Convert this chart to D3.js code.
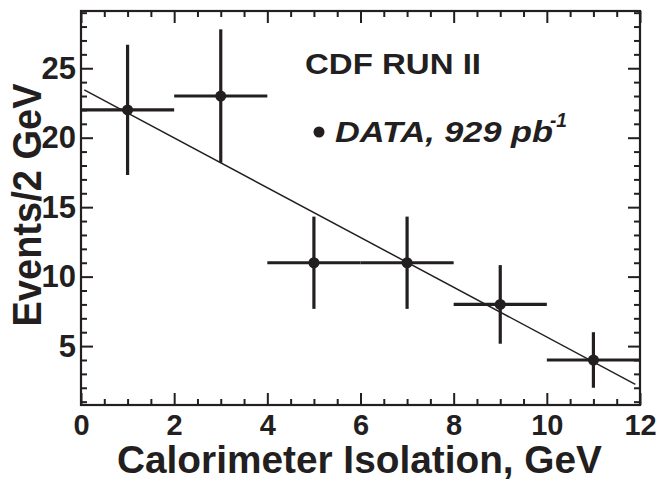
<!DOCTYPE html>
<html>
<head>
<meta charset="utf-8">
<script src="https://cdn.jsdelivr.net/npm/d3@7"></script>
<style>
  body { margin: 0; background: #fff; }
  text { font-family: "Liberation Sans", Arial, Helvetica, sans-serif; font-weight: bold; fill: #231f20; }
</style>
</head>
<body>
<script>
(function () {
  // bin centres, counts and half widths
  const binCenters = [1, 3, 5, 7, 9, 11]
  const counts = [22, 23, 11, 11, 8, 4]
  const countErrors = [4.69, 4.8, 3.32, 3.32, 2.83, 2.0]
  const binHalfWidth = [1, 1, 1, 1, 1, 1]

  // straight fit line, end points
  const fitX = [0.07, 11.9]
  const fitY = [23.44, 2.25]

  const xMajor = [0, 2, 4, 6, 8, 10, 12]
  const xLabels = ['0', '2', '4', '6', '8', '10', '12']
  const yMajor = [5, 10, 15, 20, 25]
  const yLabels = ['5', '10', '15', '20', '25']

  const W = 656, H = 479
  const ink = '#231f20'

  const x = d3.scaleLinear().domain([0, 12]).range([81, 640])
  const y = d3.scaleLinear().domain([0.76, 29.12]).range([405, 11])

  const xMinor = d3.range(0.5, 12, 0.5).filter(v => v % 2 !== 0)
  const yMinor = d3.range(1, 30, 1).filter(v => v % 5 !== 0 && v < 29.12)

  const svg = d3.select('body').append('svg')
                .attr('width', W)
                .attr('height', H)

  // axes (ticks point inwards, on all four sides)
  const bottom = svg.append('g').attr('transform', `translate(0,${y.range()[0]})`)
  bottom.call(d3.axisBottom(x).tickValues(xMajor).tickSize(-12).tickPadding(9)
                .tickFormat((d, i) => xLabels[i]))
  bottom.append('g').call(d3.axisBottom(x).tickValues(xMinor).tickSize(-6).tickFormat(''))

  const top = svg.append('g').attr('transform', `translate(0,${y.range()[1]})`)
  top.call(d3.axisTop(x).tickValues(xMajor).tickSize(-12).tickFormat(''))
  top.append('g').call(d3.axisTop(x).tickValues(xMinor).tickSize(-6).tickFormat(''))

  const left = svg.append('g').attr('transform', `translate(${x.range()[0]},0)`)
  left.call(d3.axisLeft(y).tickValues(yMajor).tickSize(-12).tickPadding(5)
              .tickFormat((d, i) => yLabels[i]))
  left.append('g').call(d3.axisLeft(y).tickValues(yMinor).tickSize(-6).tickFormat(''))

  const right = svg.append('g').attr('transform', `translate(${x.range()[1]},0)`)
  right.call(d3.axisRight(y).tickValues(yMajor).tickSize(-12).tickFormat(''))
  right.append('g').call(d3.axisRight(y).tickValues(yMinor).tickSize(-6).tickFormat(''))

  svg.selectAll('.domain').remove()
  svg.selectAll('.tick line').attr('stroke', ink).attr('stroke-width', 2)
  svg.selectAll('.tick text')
     .attr('fill', ink)
     .style('font-family', '"Liberation Sans", Arial, sans-serif')
     .style('font-weight', 'bold')
  bottom.selectAll('.tick text').style('font-size', '29px')
  left.selectAll('.tick text').style('font-size', '31px')

  // frame
  svg.append('rect')
     .attr('x', x.range()[0])
     .attr('y', y.range()[1])
     .attr('width', x.range()[1] - x.range()[0])
     .attr('height', y.range()[0] - y.range()[1])
     .attr('fill', 'none')
     .attr('stroke', ink)
     .attr('stroke-width', 2.2)

  // fit line
  svg.append('line')
     .attr('x1', x(fitX[0])).attr('y1', y(fitY[0]))
     .attr('x2', x(fitX[1])).attr('y2', y(fitY[1]))
     .attr('stroke', ink)
     .attr('stroke-width', 1.5)

  // data points with error bars
  const pts = svg.append('g').selectAll('g')
                 .data(binCenters)
                 .enter()
                 .append('g')

  pts.append('line')
     .attr('x1', (d, i) => x(d - binHalfWidth[i]))
     .attr('x2', (d, i) => x(d + binHalfWidth[i]))
     .attr('y1', (d, i) => y(counts[i]))
     .attr('y2', (d, i) => y(counts[i]))
     .attr('stroke', ink)
     .attr('stroke-width', 3.2)

  pts.append('line')
     .attr('x1', d => x(d))
     .attr('x2', d => x(d))
     .attr('y1', (d, i) => y(counts[i] - countErrors[i]))
     .attr('y2', (d, i) => y(counts[i] + countErrors[i]))
     .attr('stroke', ink)
     .attr('stroke-width', 3.2)

  pts.append('circle')
     .attr('cx', d => x(d))
     .attr('cy', (d, i) => y(counts[i]))
     .attr('r', 5.5)
     .attr('fill', ink)

  // legend
  svg.append('text')
     .attr('x', 305).attr('y', 74)
     .attr('textLength', 176).attr('lengthAdjust', 'spacingAndGlyphs')
     .style('font-size', '29px')
     .text('CDF RUN II')

  svg.append('circle')
     .attr('cx', 319).attr('cy', 132).attr('r', 5.5)
     .attr('fill', ink)

  svg.append('text')
     .attr('x', 335).attr('y', 142)
     .attr('textLength', 218).attr('lengthAdjust', 'spacingAndGlyphs')
     .style('font-size', '30px').style('font-style', 'italic')
     .text('DATA, 929 pb')

  svg.append('text')
     .attr('x', 550).attr('y', 127)
     .attr('textLength', 17).attr('lengthAdjust', 'spacingAndGlyphs')
     .style('font-size', '20px').style('font-style', 'italic')
     .text('-1')

  // axis titles
  svg.append('text')
     .attr('x', 359.5).attr('y', 472.5)
     .attr('text-anchor', 'middle')
     .attr('textLength', 485).attr('lengthAdjust', 'spacingAndGlyphs')
     .style('font-size', '38px')
     .text('Calorimeter Isolation, GeV')

  svg.append('text')
     .attr('transform', 'translate(41,205) rotate(-90)')
     .attr('text-anchor', 'middle')
     .attr('textLength', 243).attr('lengthAdjust', 'spacingAndGlyphs')
     .style('font-size', '41px')
     .text('Events/2 GeV')
})()
</script>
</body>
</html>
